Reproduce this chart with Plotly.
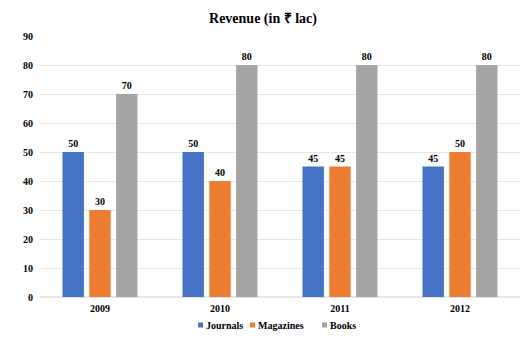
import plotly.graph_objects as go

years = ["2009", "2010", "2011", "2012"]
journals = [50, 50, 45, 45]
magazines = [30, 40, 45, 50]
books = [70, 80, 80, 80]
series_names = ["Journals", "Magazines", "Books"]
colors = ["#4472C4", "#ED7D31", "#A5A5A5"]

font_family = "Liberation Serif"

fig = go.Figure()
for name, vals, col in zip(series_names, [journals, magazines, books], colors):
    fig.add_trace(go.Bar(
        x=years, y=vals, name=name, marker_color=col,
        marker_line_width=0,
        text=[f"<b>{v}</b>" for v in vals], textposition="outside",
        textfont=dict(family=font_family, size=10, color="#000000"),
        cliponaxis=False, showlegend=False,
    ))

# manual legend (layout positions in paper coordinates)
L, R, T, B = 40, 6, 36, 47
W, H = 526, 344
pw, ph = W - L - R, H - T - B
legend_x = [198, 250, 322]  # pixel x of legend squares
legend_yc = 325
for px, name, col in zip(legend_x, series_names, colors):
    x0 = (px - L) / pw
    x1 = (px + 5 - L) / pw
    yc = (H - B - legend_yc) / ph
    fig.add_shape(type="rect", xref="paper", yref="paper",
                  x0=x0, x1=x1, y0=yc - 2.5 / ph, y1=yc + 2.5 / ph,
                  fillcolor=col, line_width=0)
    fig.add_annotation(text=f"<b>{name}</b>", xref="paper", yref="paper",
                       x=(px + 6 - L) / pw, y=yc, xanchor="left", yanchor="middle",
                       showarrow=False,
                       font=dict(family=font_family, size=10, color="#000000"))

fig.update_layout(
    width=W, height=H,
    margin=dict(l=L, r=R, t=T, b=B, autoexpand=False),
    paper_bgcolor="white", plot_bgcolor="white",
    barmode="group", bargap=0.33, bargroupgap=0.2,
    title=dict(text="<b>Revenue (in ₹ lac)</b>", x=0.5, xanchor="center",
               y=0.948, yanchor="middle",
               font=dict(family=font_family, size=14, color="#000000")),
    font=dict(family=font_family, size=10, color="#000000"),
    yaxis=dict(range=[0, 90], dtick=10, showgrid=True, gridcolor="#E6E6E6",
               gridwidth=1, zeroline=True, zerolinecolor="#E6E6E6",
               tickfont=dict(family=font_family, size=10, color="#000000", weight="bold"),
               ticks="", ticklabelstandoff=6, automargin=False),
    xaxis=dict(showgrid=False, showline=False,
               tickfont=dict(family=font_family, size=10, color="#000000", weight="bold"),
               ticks="", ticklabelstandoff=4, automargin=False),
    showlegend=False,
)

fig.write_html("out.html")
